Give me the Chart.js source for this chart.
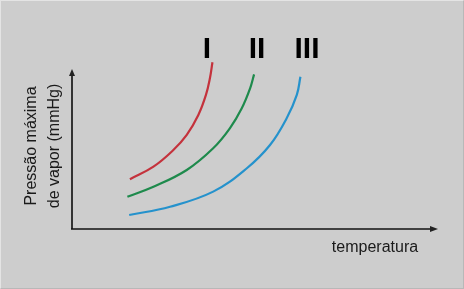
<!DOCTYPE html>
<html>
<head>
<meta charset="utf-8">
<script src="https://cdn.jsdelivr.net/npm/chart.js@4"></script>
<style>
  html, body { margin: 0; padding: 0; background: #cdcdcd; }
  #wrap { width: 462px; height: 287px; border-top: 1px solid #e4e4e4; border-left: 1px solid #e4e4e4; border-right: 1px solid #b8b8b8; border-bottom: 1px solid #b8b8b8; }
</style>
</head>
<body>
<div id="wrap"><canvas id="vaporChart" width="462" height="287"></canvas></div>
<script>
// curves (temperature, pressure), arbitrary units 0-100
var curveI_x = [16.0, 22.5, 28.0, 31.7, 34.9, 37.0, 38.1, 38.8];
var curveI_y = [31.7, 39.7, 50.3, 59.9, 72.6, 85.4, 96.0, 106.2];
var curveII_x = [15.3, 22.5, 31.7, 39.0, 43.6, 46.9, 49.2, 50.3];
var curveII_y = [20.6, 26.9, 37.6, 51.4, 64.1, 76.9, 89.6, 98.5];
var curveIII_x = [15.8, 27.1, 39.0, 48.3, 54.7, 59.3, 62.1, 63.1];
var curveIII_y = [8.9, 14.2, 23.8, 38.7, 53.5, 70.5, 85.4, 97.0];

var seriesNames = ["I", "II", "III"];
var yTitle = ["Pressão máxima", "de vapor (mmHg)"];
var xTitle = "temperatura";

function pts(xs, ys) {
  return xs.map(function (x, i) { return { x: x, y: ys[i] }; });
}

// axes with arrows + text labels
var decor = {
  id: "decor",
  afterDraw: function (chart) {
    var c = chart.ctx, a = chart.chartArea;
    c.save();
    // y axis
    c.strokeStyle = "#333";
    c.lineWidth = 2;
    c.beginPath();
    c.moveTo(a.left, a.bottom);
    c.lineTo(a.left, a.top);
    c.stroke();
    c.fillStyle = "#222";
    c.beginPath();
    c.moveTo(a.left, a.top - 3);
    c.lineTo(a.left - 3, a.top + 4);
    c.lineTo(a.left + 3, a.top + 4);
    c.closePath();
    c.fill();
    // x axis
    c.strokeStyle = "#111";
    c.lineWidth = 1.5;
    c.beginPath();
    c.moveTo(a.left - 1, a.bottom);
    c.lineTo(a.right, a.bottom);
    c.stroke();
    c.beginPath();
    c.moveTo(a.right + 4, a.bottom);
    c.lineTo(a.right - 4, a.bottom - 3);
    c.lineTo(a.right - 4, a.bottom + 3);
    c.closePath();
    c.fill();

    // titles
    c.fillStyle = "#1a1a1a";
    c.font = "16px 'Liberation Sans', Arial, sans-serif";
    c.textAlign = "center";
    c.textBaseline = "middle";
    c.fillText(xTitle, 374, 247);
    c.save();
    c.translate(31, 145);
    c.rotate(-Math.PI / 2);
    c.fillText(yTitle[0], 0, 0);
    c.restore();
    c.save();
    c.translate(54, 145);
    c.rotate(-Math.PI / 2);
    c.fillText(yTitle[1], 0, 0);
    c.restore();

    // roman numerals
    c.fillStyle = "#000";
    c.font = "bold 30px 'Liberation Sans', Arial, sans-serif";
    var lx = [206, 256, 306];
    seriesNames.forEach(function (s, i) { c.fillText(s, lx[i], 49); });
    c.restore();
  }
};

var ctx = document.getElementById("vaporChart").getContext("2d");
var vaporChart = new Chart(ctx, {
  type: "line",
  data: {
    datasets: [
      { label: seriesNames[0], data: pts(curveI_x, curveI_y), borderColor: "#c4323c" },
      { label: seriesNames[1], data: pts(curveII_x, curveII_y), borderColor: "#1e8a4c" },
      { label: seriesNames[2], data: pts(curveIII_x, curveIII_y), borderColor: "#2592cc" }
    ]
  },
  options: {
    responsive: false,
    animation: false,
    layout: { padding: { left: 71, right: 29, top: 71, bottom: 59 } },
    elements: {
      line: { borderWidth: 2.2, tension: 0.4, fill: false },
      point: { radius: 0 }
    },
    datasets: { line: { clip: false } },
    scales: {
      x: { type: "linear", min: 0, max: 100, display: false },
      y: { type: "linear", min: 0, max: 100, display: false }
    },
    plugins: {
      legend: { display: false },
      tooltip: { enabled: false }
    }
  },
  plugins: [decor]
});
</script>
</body>
</html>
